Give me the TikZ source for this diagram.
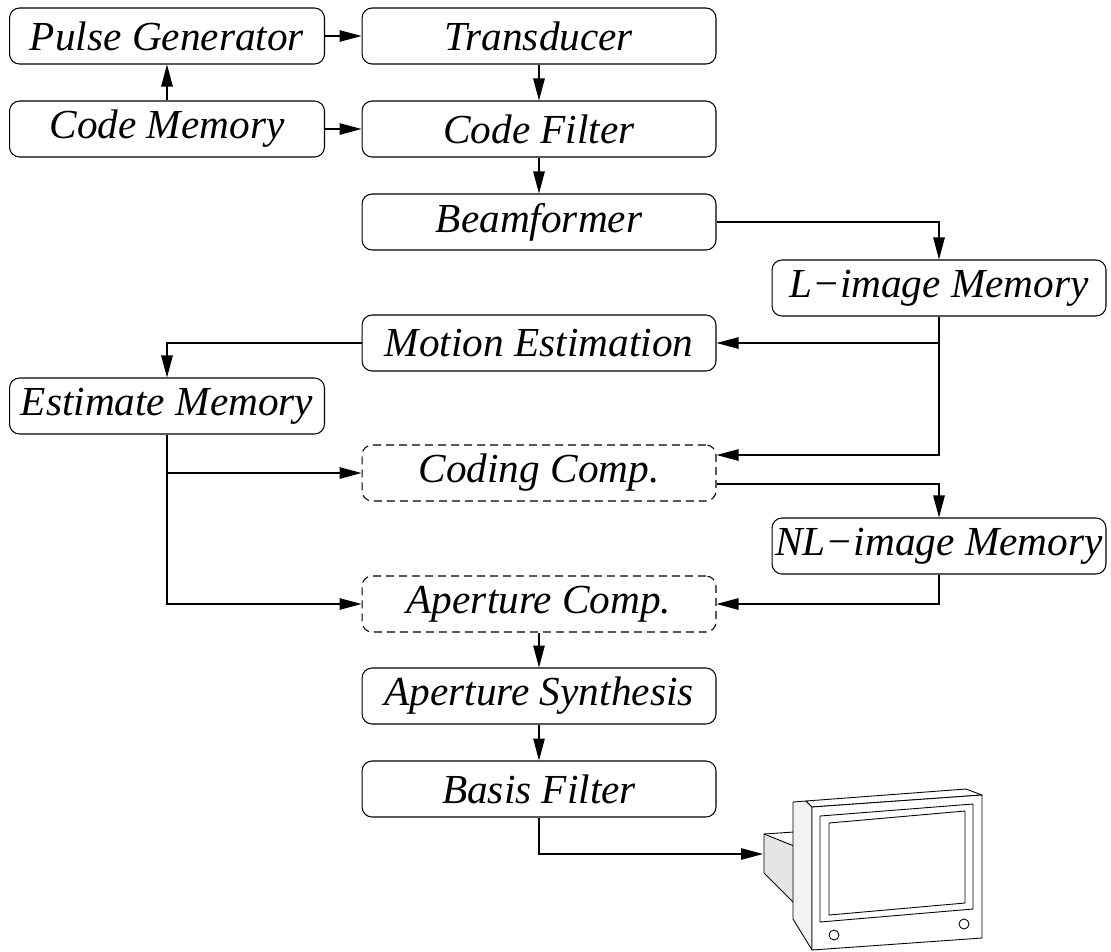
\documentclass[tikz,border=0pt]{standalone}
\usepackage{fontspec}
\setmainfont{Liberation Serif}
\usetikzlibrary{arrows.meta}
\def\midWidth{7.08cm}
\def\sideWidth{6.3cm}
\def\rightWidth{6.68cm}

\begin{document}
\begin{tikzpicture}[
    x=0.02cm, y=-0.02cm,
    line width=0.6pt,
    arrowtip/.style={
      -{Triangle[length=4.4mm,width=2.3mm]}
    },
    block/.style={
      draw, rounded corners=2mm, minimum height=1.12cm,
      inner sep=0pt, font=\fontsize{23.5}{26}\selectfont\itshape
    },
    compblock/.style={block, dashed, dash pattern=on 1.6mm off 1mm}
  ]
    \useasboundingbox (0,0) rectangle (1111,951);

    % left column
    \node[block, minimum width=\sideWidth] (pulse) at (167,36) {Pulse Generator};
    \node[block, minimum width=\sideWidth] (codemem) at (167,129) {Code Memory};
    \node[block, minimum width=\sideWidth] (estmem) at (167,406) {Estimate Memory};

    % middle column
    \node[block, minimum width=\midWidth] (trans) at (539,36) {Transducer};
    \node[block, minimum width=\midWidth] (codefilt) at (539,129) {Code Filter};
    \node[block, minimum width=\midWidth] (beam) at (539,222) {Beamformer};
    \node[block, minimum width=\midWidth] (motion) at (539,343) {Motion Estimation};
    \node[compblock, minimum width=\midWidth] (codecomp) at (539,473) {Coding Comp.};
    \node[compblock, minimum width=\midWidth] (apcomp) at (539,604) {Aperture Comp.};
    \node[block, minimum width=\midWidth] (apsyn) at (539,696) {Aperture Synthesis};
    \node[block, minimum width=\midWidth] (basis) at (539,789) {Basis Filter};

    % right column
    \node[block, minimum width=\rightWidth] (limg) at (939,288) {L−image Memory};
    \node[block, minimum width=\rightWidth] (nlimg) at (939,546) {NL−image Memory};

    % monitor
    \coordinate (screen) at (763,854);
    \begin{scope}[line width=0.5pt, line join=round]
      \draw[fill=black!10] (764,834) -- (794,846) -- (794,903) -- (764,873) -- cycle;
      \draw (764,834) -- (794,832);
      \draw[fill=black!5] (793,802) -- (806,801) -- (812,807) -- (812,950) -- (793,919) -- cycle;
      \draw[fill=white] (806,801) -- (966,789) -- (982,795) -- (812,807) -- cycle;
      \draw[fill=white] (812,807) -- (982,795) -- (982,938) -- (812,950) -- cycle;
      \draw (820,816) -- (973,804) -- (973,909) -- (820,922) -- cycle;
      \draw (829,823) -- (965,811) -- (965,903) -- (829,915) -- cycle;
      \draw (834,935) circle (5);
      \draw (964,924) circle (5);
    \end{scope}

    % transmit chain
    \draw[arrowtip] (pulse) -- (trans);
    \draw[arrowtip] (codemem) -- (pulse);
    \draw[arrowtip] (codemem) -- (codefilt);
    \draw[arrowtip] (trans) -- (codefilt);
    \draw[arrowtip] (codefilt) -- (beam);
    \draw[arrowtip] (beam.east) -| (limg.north);

    % estimation and compensation
    \draw[arrowtip] (limg.south) |- (codecomp.east |- 0,455);
    \draw[arrowtip] (limg.south |- motion.east) -- (motion.east);
    \draw[arrowtip] (motion.west) -| (estmem.north);
    \draw[arrowtip] (estmem.south) |- (apcomp.west);
    \draw[arrowtip] (estmem.south |- codecomp.west) -- (codecomp.west);
    \draw[arrowtip] (codecomp.east |- 0,484) -| (nlimg.north);
    \draw[arrowtip] (nlimg.south) |- (apcomp.east);

    % synthesis and display
    \draw[arrowtip] (apcomp) -- (apsyn);
    \draw[arrowtip] (apsyn) -- (basis);
    \draw[arrowtip] (basis.south) |- (screen);
  \end{tikzpicture}
\end{document}
